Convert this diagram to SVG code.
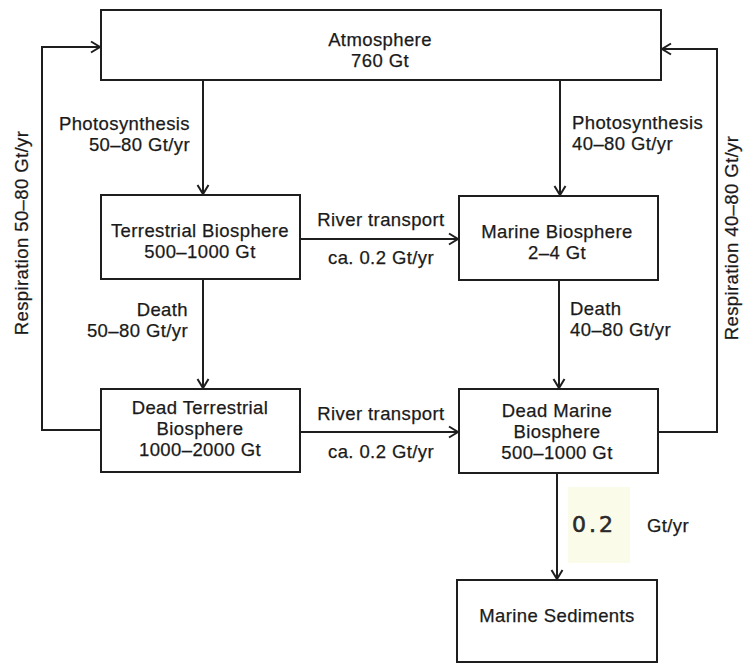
<svg xmlns="http://www.w3.org/2000/svg" width="746" height="664" viewBox="0 0 746 664">
<defs>
<style>
.box{fill:#fff;stroke:#1e1e1e;stroke-width:2}
.ln{fill:none;stroke:#1e1e1e;stroke-width:2}
text{font-family:"Liberation Sans",Arial,sans-serif;font-size:18.5px;letter-spacing:0.4px;fill:#1a1a1a;stroke:#1a1a1a;stroke-width:0.25}
.c{text-anchor:middle}
.e{text-anchor:end}
</style>
<marker id="ah" markerWidth="14" markerHeight="14" refX="11" refY="7" orient="auto" markerUnits="userSpaceOnUse">
<path d="M2,1.5 L11,7 L2,12.5" fill="none" stroke="#1e1e1e" stroke-width="2"/>
</marker>
</defs>
<rect width="746" height="664" fill="#fff"/>
<g id="connectors">
<line class="ln" x1="203" y1="80" x2="203" y2="194" marker-end="url(#ah)"/>
<line class="ln" x1="560" y1="80" x2="560" y2="195" marker-end="url(#ah)"/>
<line class="ln" x1="203" y1="279" x2="203" y2="388" marker-end="url(#ah)"/>
<line class="ln" x1="559" y1="280" x2="559" y2="388" marker-end="url(#ah)"/>
<line class="ln" x1="557" y1="473" x2="557" y2="579" marker-end="url(#ah)"/>
<line class="ln" x1="300" y1="239" x2="458" y2="239" marker-end="url(#ah)"/>
<line class="ln" x1="300" y1="432" x2="458" y2="432" marker-end="url(#ah)"/>
<path class="ln" d="M101,430 H42 V47 H100" marker-end="url(#ah)"/>
<path class="ln" d="M658,432 H717 V49 H662" marker-end="url(#ah)"/>
<text class="e" x="190" y="129.5">Photosynthesis<tspan x="190" dy="21">50–80 Gt/yr</tspan></text>
<text x="572" y="129">Photosynthesis<tspan x="572" dy="21">40–80 Gt/yr</tspan></text>
<text class="e" x="188" y="315.5">Death<tspan x="188" dy="21">50–80 Gt/yr</tspan></text>
<text x="570" y="314.5">Death<tspan x="570" dy="21">40–80 Gt/yr</tspan></text>
<text class="c" x="381" y="226">River transport</text>
<text class="c" x="381" y="264">ca. 0.2 Gt/yr</text>
<text class="c" x="381" y="420">River transport</text>
<text class="c" x="381" y="458">ca. 0.2 Gt/yr</text>
<text class="c" transform="translate(28,233) rotate(-90)">Respiration 50–80 Gt/yr</text>
<text class="c" transform="translate(738,238) rotate(-90)">Respiration 40–80 Gt/yr</text>
<rect x="568" y="487" width="62" height="76" fill="#fbfbe9"/>
<text x="572" y="532" style="font-family:'DejaVu Sans',sans-serif;font-size:22px;letter-spacing:3px;fill:#2a2a2a;stroke:#2a2a2a;stroke-width:0.6">0.2</text>
<text x="647" y="532">Gt/yr</text>
</g>
<g id="atmosphere">
<rect class="box" x="101" y="10" width="560" height="70"/>
<text class="c" x="380" y="46">Atmosphere<tspan x="380" dy="21">760 Gt</tspan></text>
</g>
<g id="terrestrial-biosphere">
<rect class="box" x="101" y="195" width="199" height="84"/>
<text class="c" x="200" y="236.5">Terrestrial Biosphere<tspan x="200" dy="21">500–1000 Gt</tspan></text>
</g>
<g id="marine-biosphere">
<rect class="box" x="459" y="196" width="199" height="84"/>
<text class="c" x="557" y="238">Marine Biosphere<tspan x="557" dy="21">2–4 Gt</tspan></text>
</g>
<g id="dead-terrestrial-biosphere">
<rect class="box" x="101" y="389" width="199" height="83"/>
<text class="c" x="200" y="414">Dead Terrestrial<tspan x="200" dy="21">Biosphere</tspan><tspan x="200" dy="21">1000–2000 Gt</tspan></text>
</g>
<g id="dead-marine-biosphere">
<rect class="box" x="459" y="389" width="199" height="84"/>
<text class="c" x="557" y="416.5">Dead Marine<tspan x="557" dy="21">Biosphere</tspan><tspan x="557" dy="21">500–1000 Gt</tspan></text>
</g>
<g id="marine-sediments">
<rect class="box" x="457" y="580" width="200" height="82"/>
<text class="c" x="557" y="622">Marine Sediments</text>
</g>
</svg>
